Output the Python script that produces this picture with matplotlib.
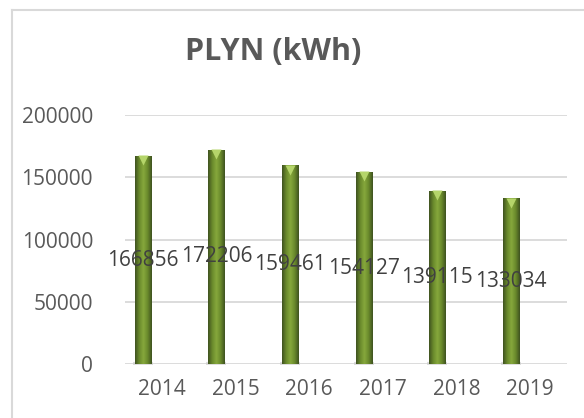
import matplotlib

matplotlib.use("Agg")
import matplotlib.pyplot as plt
import matplotlib.transforms as mtransforms
import numpy as np
from matplotlib.colors import LinearSegmentedColormap
from matplotlib.lines import Line2D

years = ["2014", "2015", "2016", "2017", "2018", "2019"]
gas_kwh = [166856, 172206, 159461, 154127, 139115, 133034]
y_ticks = [0, 50000, 100000, 150000, 200000]
title = "PLYN (kWh)"

W, H = 584, 418
fig = plt.figure(figsize=(W / 100, H / 100), dpi=100)
fig.patch.set_facecolor("white")

# chart area frame: only top and left edges are visible in the crop
frame = "#d9d9d9"
fig.add_artist(Line2D([12 / W, 12 / W], [0, 1 - 10 / H], color=frame, lw=1.5, transform=fig.transFigure))
fig.add_artist(Line2D([12 / W, 1], [1 - 10 / H, 1 - 10 / H], color=frame, lw=1.5, transform=fig.transFigure))

ax = fig.add_axes([125 / W, 1 - 364 / H, (567 - 125) / W, (364 - 115) / H])
ax.set_xlim(-0.5, len(years) - 0.5)
ax.set_ylim(0, 200000)
for s in ax.spines.values():
    s.set_visible(False)

ax.set_yticks(y_ticks)
ax.set_yticklabels([str(v) for v in y_ticks])
ax.set_xticks(range(len(years)))
ax.set_xticklabels(years)
ax.tick_params(length=0, labelsize=15, colors="#595959", pad=0)
ax.tick_params(axis="y", pad=23)
ax.tick_params(axis="x", pad=11)
for lab in ax.get_xticklabels() + ax.get_yticklabels():
    lab.set_fontfamily("Open Sans")

ax.yaxis.grid(True, color="#d9d9d9", lw=1.3)
ax.set_axisbelow(True)

# 3D-ish cylinders are drawn shifted left of the category centre
shift = -0.26
width = 0.22
xs = np.arange(len(years)) + shift
bars = ax.bar(xs, gas_kwh, width=width, color="#6b8a2e", zorder=2)

cmap = LinearSegmentedColormap.from_list("cyl", ["#3f5220", "#6a8a2c", "#86a83c", "#6a8a2c", "#3f5220"])
grad = np.linspace(0, 1, 64).reshape(1, -1)
cap_tr = mtransforms.offset_copy(ax.transData, fig=fig, x=0, y=-3, units="points")
for b in bars:
    im = ax.imshow(grad, cmap=cmap, aspect="auto", zorder=3,
                   extent=[b.get_x(), b.get_x() + b.get_width(), 0, b.get_height()])
    im.set_clip_path(b)
    ax.plot(b.get_x() + b.get_width() / 2, b.get_height(), marker="v", ms=7,
            color="#b5d56a", mec="none", zorder=4, transform=cap_tr)
    # soft shadow at the base
    ax.plot(b.get_x() + b.get_width() / 2, 0, marker="_", ms=14, mew=3,
            color="#c8c8c8", alpha=0.6, zorder=1)

for x, v in zip(xs, gas_kwh):
    ax.text(x, v / 2, str(v), ha="center", va="center", fontsize=15,
            color="#404040", family="Open Sans", zorder=5)

fig.text(273 / W, 1 - 52 / H, title, ha="center", va="center", fontsize=22,
         fontweight="bold", color="#595959", family="Open Sans")

fig.savefig("out.png", dpi=100)
